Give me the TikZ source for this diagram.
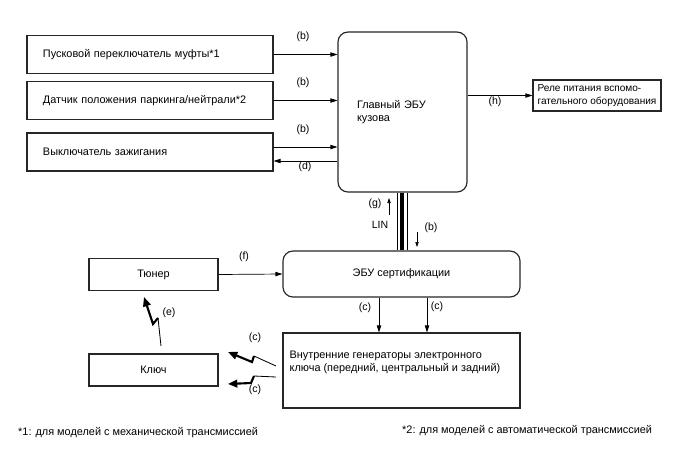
\documentclass[tikz,border=0pt]{standalone}
\usepackage{fontspec}
\setmainfont{Liberation Sans}
\usetikzlibrary{arrows.meta,positioning,calc}

\begin{document}
\begin{tikzpicture}[
  x=0.03cm, y=-0.03cm,
  every node/.style={font=\fontsize{9.3}{11}\selectfont, inner sep=0pt},
  unit/.style={draw=black!85, line width=1pt, align=left,
    minimum height=1.12cm, inner xsep=0.48cm, text width=6.42cm},
  ecu/.style={draw=black!85, line width=1pt, rounded corners=0.3cm},
  plain/.style={draw=black!85, line width=1pt, align=center,
    minimum width=3.87cm, minimum height=0.94cm},
  tag/.style={font=\fontsize{9}{10}\selectfont},
  arrow/.style={-{Triangle[length=2.1mm,width=1.3mm]}, line width=0.6pt},
  small/.style={-{Triangle[length=1.5mm,width=1mm]}, line width=0.5pt},
  bolt/.style={-{Triangle[length=2.8mm,width=2.3mm]}, line width=1.8pt},
  tail/.style={line width=0.7pt},
  bus/.style={line width=0.7pt}
]
  \useasboundingbox (0,0) rectangle (688,463);

  % switches on the left
  \node[unit] (clutch) at (150,54.5) {Пусковой переключатель муфты*1};
  \node[unit] (park) at (150,100.5) {Датчик положения паркинга/нейтрали*2};
  \node[unit, minimum height=1.14cm] (ign) at (150,152) {Выключатель зажигания};

  % body ECU and relay
  \node[ecu, align=left, minimum width=3.87cm, minimum height=4.8cm,
    inner xsep=0.57cm, text width=2.73cm] (body) at (402.5,112) {Главный ЭБУ\\кузова};
  \node[draw=black!85, line width=1pt, align=left, inner xsep=0.09cm,
    minimum width=3.84cm, minimum height=0.93cm, font=\fontsize{8.6}{10.4}\selectfont]
    (relay) at (597,95.5) {Реле питания вспомо-\\гательного оборудования};

  % lower part
  \node[plain] (tuner) at (153.5,274.5) {Тюнер};
  \node[ecu, minimum width=7.11cm, minimum height=1.38cm] (cert) at (401.5,274) {ЭБУ сертификации};
  \node[plain, minimum height=0.96cm] (key) at (153.5,370) {Ключ};
  \node[draw=black!85, line width=1pt, minimum width=7.11cm, minimum height=2.25cm,
    label={[align=left, anchor=west, xshift=0.21cm, yshift=0.24cm]west:Внутренние генераторы электронного\\ключа (передний, центральный и задний)}]
    (gen) at (401.5,370.5) {};

  % wired signals
  \draw[arrow] (clutch.east) -- (clutch.east -| body.west);
  \draw[arrow] (park.east) -- (park.east -| body.west);
  \draw[arrow] ([yshift=0.15cm]ign.east) -- ([yshift=0.15cm]ign.east -| body.west);
  \draw[arrow] ([yshift=-0.27cm]ign.east -| body.west) -- ([yshift=-0.27cm]ign.east);
  \draw[arrow] (relay.west -| body.east) -- (relay.west);
  \draw[arrow] (tuner.east) -- (cert.west);
  \draw[arrow] ([xshift=-0.675cm]cert.south) -- ([xshift=-0.675cm]cert.south |- gen.north);
  \draw[arrow] ([xshift=0.765cm]cert.south) -- ([xshift=0.765cm]cert.south |- gen.north);

  \node[tag] at (303,37) {(b)};
  \node[tag] at (303,83) {(b)};
  \node[tag] at (303,130) {(b)};
  \node[tag] at (305,167) {(d)};
  \node[tag] at (495,102) {(h)};
  \node[tag] at (244,257) {(f)};
  \node[tag] at (365,308) {(c)};
  \node[tag] at (437,307) {(c)};

  % LIN bus
  \coordinate (busL) at ($(body.south)+(-5.2,0)$);
  \coordinate (busM) at ($(body.south)+(-0.2,0)$);
  \coordinate (busR) at ($(body.south)+(4.8,0)$);
  \draw[bus] (busL) -- (busL |- cert.north);
  \draw[line width=3.4pt] (busM) -- (busM |- cert.north);
  \draw[bus] (busR) -- (busR |- cert.north);
  \coordinate (gfoot) at (389,215);
  \coordinate (bfoot) at (417,232);
  \draw[small] (gfoot) -- ++(0,-17);
  \draw[small] (bfoot) -- ++(0,15);
  \node[tag] at (375,204) {(g)};
  \node[tag] at (380,225) {LIN};
  \node[tag] at (431,228) {(b)};

  % radio links
  \coordinate (e0) at (161,346); \coordinate (e1) at (158,318);
  \coordinate (e2) at (153,324); \coordinate (e3) at (144,297);
  \draw[tail] (e0) -- (e1);
  \draw[bolt] (e1) -- (e2) -- (e3);
  \node[tag] at (169,313) {(e)};

  \coordinate (p0) at (276,366); \coordinate (p1) at (254,356);
  \coordinate (p2) at (252,362); \coordinate (p3) at (228,352);
  \draw[tail] (p0) -- (p1);
  \draw[bolt] (p1) -- (p2) -- (p3);
  \node[tag] at (255,338) {(c)};

  \coordinate (q0) at (276,377); \coordinate (q1) at (254,376);
  \coordinate (q2) at (251,383); \coordinate (q3) at (228,384);
  \draw[tail] (q0) -- (q1);
  \draw[bolt] (q1) -- (q2) -- (q3);
  \node[tag] at (255,390) {(c)};

  % notes
  \node[anchor=west] (note1) at (18,433) {*1: для моделей с механической трансмиссией};
  \node[anchor=west] (note2) at (402,431) {*2: для моделей с автоматической трансмиссией};
\end{tikzpicture}
\end{document}
